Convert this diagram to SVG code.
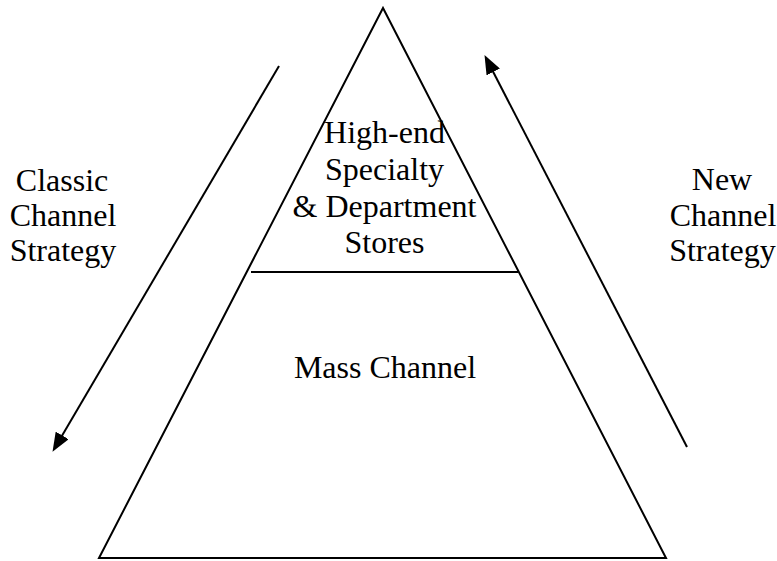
<svg xmlns="http://www.w3.org/2000/svg" width="777" height="561" viewBox="0 0 777 561">
  <style>
    .edge { fill: none; stroke: #000; stroke-width: 2; }
    .lbl { font-family: "Liberation Serif", "Times New Roman", serif; font-size: 32px; fill: #000; text-anchor: middle; }
  </style>
  <defs>
    <marker id="head" markerUnits="userSpaceOnUse" markerWidth="19" markerHeight="15" refX="9" refY="7.5" orient="auto">
      <path d="M0,0 L19,7.5 L0,15 Z" fill="#000"/>
    </marker>
  </defs>
  <rect width="777" height="561" fill="#fff"/>

  <!-- pyramid outline -->
  <g id="pyramid">
    <polygon class="edge" points="383,8 99,558 666,558"/>
  </g>

  <!-- upper tier -->
  <g id="tier-top">
    <line class="edge" x1="251" y1="272" x2="518" y2="272"/>
    <text class="lbl" x="384.5" y="143">High-end</text>
    <text class="lbl" x="384.5" y="180">Specialty</text>
    <text class="lbl" x="384.5" y="217">&amp; Department</text>
    <text class="lbl" x="384.5" y="253">Stores</text>
  </g>

  <!-- lower tier -->
  <g id="tier-bottom">
    <text class="lbl" x="385" y="378">Mass Channel</text>
  </g>

  <!-- side labels -->
  <g id="classic">
    <text class="lbl" x="62" y="191">Classic</text>
    <text class="lbl" x="63" y="226">Channel</text>
    <text class="lbl" x="63" y="261">Strategy</text>
  </g>
  <g id="new">
    <text class="lbl" x="722" y="190">New</text>
    <text class="lbl" x="723" y="226">Channel</text>
    <text class="lbl" x="722.5" y="261">Strategy</text>
  </g>

  <!-- strategy arrows -->
  <g id="connectors">
    <line class="edge" x1="279" y1="66" x2="57.6" y2="443.2" marker-end="url(#head)"/>
    <line class="edge" x1="687" y1="447" x2="489.1" y2="64" marker-end="url(#head)"/>
  </g>
</svg>
